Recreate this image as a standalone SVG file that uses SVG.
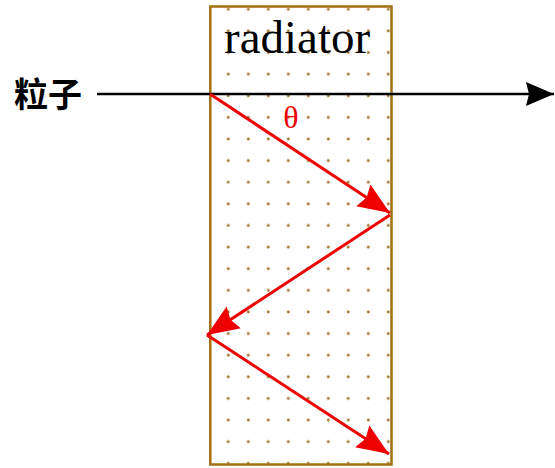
<svg xmlns="http://www.w3.org/2000/svg" width="555" height="468" viewBox="0 0 555 468">
<defs>
<style>
.box{fill:url(#dots);stroke:#a2700f;stroke-width:2.5}
.beam{stroke:#000;stroke-width:2.5;fill:none}
.ray{stroke:#ee0000;stroke-width:3;fill:none}
.lbl{font-family:"Liberation Serif","Times New Roman",serif}
.cjk{font-family:"Noto Sans CJK SC","Noto Sans",sans-serif;font-weight:bold}
</style>
<pattern id="dots" patternUnits="userSpaceOnUse" x="198.3" y="-1.5" width="20" height="21.62">
<rect width="20" height="21.62" fill="#fff"/>
<circle cx="10" cy="10.8" r="1.4" fill="#9c6f22"/>
</pattern>
<marker id="ab" markerUnits="userSpaceOnUse" markerWidth="30" markerHeight="26" refX="28" refY="13" orient="auto">
<path d="M0,1 L28,13 L0,25 L3,13 Z" fill="#000"/>
</marker>
<marker id="ar" markerUnits="userSpaceOnUse" markerWidth="34" markerHeight="28" refX="32" refY="14" orient="auto">
<path d="M0,1 L32,14 L0,27 L4,14 Z" fill="#ee0000"/>
</marker>
</defs>
<g id="radiator">
<rect class="box" x="210.3" y="6.5" width="181.2" height="458"/>
<text class="lbl" x="224" y="53" font-size="47">radiator</text>
</g>
<g id="particle">
<text class="cjk" x="14" y="107" font-size="34">粒子</text>
</g>
<g id="connectors">
<line class="beam" x1="97" y1="94" x2="554" y2="94" marker-end="url(#ab)"/>
<line class="ray" x1="210" y1="94" x2="390" y2="213" marker-end="url(#ar)"/>
<line class="ray" x1="390" y1="215" x2="207" y2="335" marker-end="url(#ar)"/>
<line class="ray" x1="207" y1="335" x2="389" y2="454" marker-end="url(#ar)"/>
</g>
<g id="theta">
<text class="lbl" x="291" y="128" font-size="32" fill="#ee0000" text-anchor="middle">θ</text>
</g>
</svg>
